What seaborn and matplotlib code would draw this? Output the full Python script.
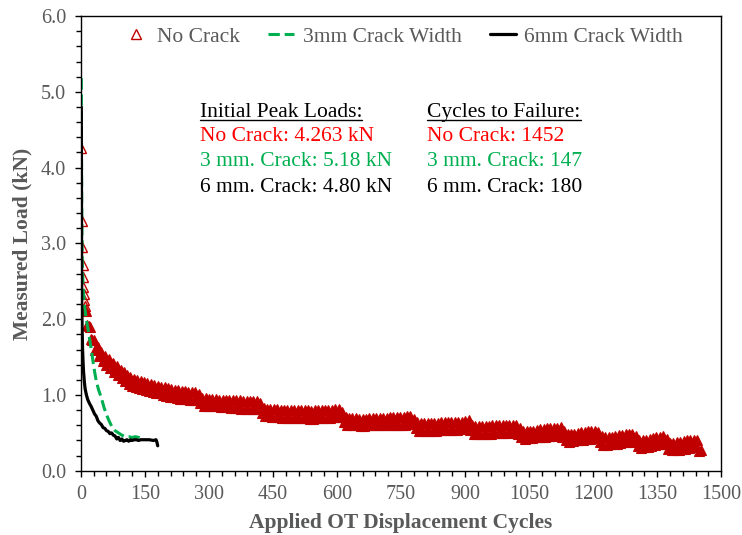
import numpy as np
import matplotlib
matplotlib.use("Agg")
import matplotlib.pyplot as plt
from matplotlib.ticker import MultipleLocator, FormatStrFormatter
from matplotlib.lines import Line2D
import seaborn as sns

# --- dados ---
# No Crack (triangulos vermelhos): ciclo e carga de pico
red_cycles = [1, 2, 3, 4, 5, 6, 7, 8, 9, 10,
              12, 15, 18, 21, 24, 27, 30, 33, 36, 39,
              42, 45, 48, 51, 54, 57, 60, 63, 66, 69,
              72, 75, 78, 81, 84, 87, 90, 93, 96, 99,
              100, 104, 108, 112, 116, 120, 124, 128, 132, 136,
              140, 144, 148, 152, 156, 160, 164, 168, 172, 176,
              180, 184, 188, 192, 196, 200, 204, 208, 212, 216,
              220, 224, 228, 232, 236, 240, 244, 248, 252, 256,
              260, 264, 268, 272, 276, 280, 284, 288, 292, 296,
              300, 304, 308, 312, 316, 320, 324, 328, 332, 336,
              340, 344, 348, 352, 356, 360, 364, 368, 372, 376,
              380, 384, 388, 392, 396, 400, 404, 408, 412, 416,
              420, 424, 428, 432, 436, 440, 444, 448, 452, 456,
              460, 464, 468, 472, 476, 480, 484, 488, 492, 496,
              500, 504, 508, 512, 516, 520, 524, 528, 532, 536,
              540, 544, 548, 552, 556, 560, 564, 568, 572, 576,
              580, 584, 588, 592, 596, 600, 604, 608, 612, 616,
              620, 624, 628, 632, 636, 640, 644, 648, 652, 656,
              660, 664, 668, 672, 676, 680, 684, 688, 692, 696,
              700, 704, 708, 712, 716, 720, 724, 728, 732, 736,
              740, 744, 748, 752, 756, 760, 764, 768, 772, 776,
              780, 784, 788, 792, 796, 800, 804, 808, 812, 816,
              820, 824, 828, 832, 836, 840, 844, 848, 852, 856,
              860, 864, 868, 872, 876, 880, 884, 888, 892, 896,
              900, 904, 908, 912, 916, 920, 924, 928, 932, 936,
              940, 944, 948, 952, 956, 960, 964, 968, 972, 976,
              980, 984, 988, 992, 996, 1000, 1004, 1008, 1012, 1016,
              1020, 1024, 1028, 1032, 1036, 1040, 1044, 1048, 1052, 1056,
              1060, 1064, 1068, 1072, 1076, 1080, 1084, 1088, 1092, 1096,
              1100, 1104, 1108, 1112, 1116, 1120, 1124, 1128, 1132, 1136,
              1140, 1144, 1148, 1152, 1156, 1160, 1164, 1168, 1172, 1176,
              1180, 1184, 1188, 1192, 1196, 1200, 1204, 1208, 1212, 1216,
              1220, 1224, 1228, 1232, 1236, 1240, 1244, 1248, 1252, 1256,
              1260, 1264, 1268, 1272, 1276, 1280, 1284, 1288, 1292, 1296,
              1300, 1304, 1308, 1312, 1316, 1320, 1324, 1328, 1332, 1336,
              1340, 1344, 1348, 1352, 1356, 1360, 1364, 1368, 1372, 1376,
              1380, 1384, 1388, 1392, 1396, 1400, 1404, 1408, 1412, 1416,
              1420, 1424, 1428, 1432, 1436, 1440, 1444, 1448, 1452]
red_load = [4.263, 3.29, 2.95, 2.72, 2.56, 2.43, 2.33, 2.25, 2.18, 2.12,
            2.11, 1.93, 1.91, 1.90, 1.74, 1.73, 1.73, 1.60, 1.62, 1.64,
            1.51, 1.54, 1.57, 1.45, 1.48, 1.51, 1.40, 1.43, 1.47, 1.35,
            1.39, 1.42, 1.31, 1.34, 1.38, 1.26, 1.30, 1.33, 1.22, 1.25,
            1.30, 1.18, 1.27, 1.15, 1.24, 1.12, 1.21, 1.11, 1.20, 1.09,
            1.19, 1.08, 1.17, 1.07, 1.16, 1.05, 1.15, 1.04, 1.13, 1.03,
            1.12, 1.02, 1.11, 1.00, 1.10, 0.99, 1.09, 0.98, 1.08, 0.97,
            1.07, 0.96, 1.06, 0.95, 1.05, 0.95, 1.05, 0.95, 1.04, 0.94,
            1.04, 0.94, 1.04, 0.93, 1.01, 0.89, 0.96, 0.86, 0.96, 0.86,
            0.95, 0.85, 0.95, 0.85, 0.95, 0.85, 0.94, 0.84, 0.94, 0.84,
            0.94, 0.84, 0.93, 0.83, 0.93, 0.83, 0.93, 0.83, 0.93, 0.82,
            0.92, 0.82, 0.92, 0.82, 0.92, 0.82, 0.92, 0.82, 0.92, 0.82,
            0.89, 0.76, 0.83, 0.72, 0.82, 0.72, 0.81, 0.71, 0.81, 0.71,
            0.81, 0.71, 0.80, 0.70, 0.80, 0.70, 0.80, 0.70, 0.80, 0.70,
            0.80, 0.70, 0.80, 0.70, 0.80, 0.70, 0.80, 0.70, 0.80, 0.69,
            0.79, 0.69, 0.80, 0.70, 0.80, 0.70, 0.80, 0.70, 0.80, 0.70,
            0.80, 0.70, 0.80, 0.71, 0.81, 0.71, 0.81, 0.71, 0.77, 0.64,
            0.71, 0.60, 0.70, 0.60, 0.70, 0.60, 0.70, 0.60, 0.69, 0.59,
            0.69, 0.59, 0.69, 0.60, 0.70, 0.60, 0.70, 0.60, 0.70, 0.60,
            0.70, 0.60, 0.70, 0.60, 0.70, 0.60, 0.71, 0.61, 0.71, 0.61,
            0.71, 0.61, 0.71, 0.61, 0.71, 0.61, 0.72, 0.62, 0.72, 0.62,
            0.69, 0.56, 0.64, 0.53, 0.63, 0.53, 0.63, 0.53, 0.63, 0.53,
            0.63, 0.53, 0.63, 0.53, 0.63, 0.54, 0.64, 0.54, 0.64, 0.54,
            0.64, 0.54, 0.64, 0.54, 0.64, 0.54, 0.65, 0.55, 0.65, 0.56,
            0.66, 0.56, 0.67, 0.54, 0.61, 0.49, 0.59, 0.49, 0.59, 0.49,
            0.59, 0.49, 0.59, 0.49, 0.59, 0.49, 0.60, 0.50, 0.60, 0.50,
            0.60, 0.50, 0.60, 0.50, 0.60, 0.50, 0.61, 0.51, 0.61, 0.51,
            0.61, 0.49, 0.56, 0.44, 0.52, 0.42, 0.52, 0.43, 0.53, 0.43,
            0.53, 0.44, 0.54, 0.44, 0.55, 0.45, 0.55, 0.45, 0.56, 0.46,
            0.56, 0.46, 0.57, 0.47, 0.57, 0.47, 0.58, 0.45, 0.52, 0.40,
            0.48, 0.38, 0.49, 0.39, 0.49, 0.40, 0.50, 0.40, 0.51, 0.41,
            0.51, 0.42, 0.52, 0.42, 0.53, 0.43, 0.53, 0.43, 0.51, 0.38,
            0.46, 0.34, 0.44, 0.34, 0.45, 0.35, 0.45, 0.36, 0.46, 0.36,
            0.47, 0.37, 0.47, 0.38, 0.48, 0.38, 0.49, 0.39, 0.49, 0.38,
            0.46, 0.33, 0.41, 0.30, 0.40, 0.31, 0.41, 0.32, 0.42, 0.33,
            0.43, 0.34, 0.44, 0.35, 0.45, 0.36, 0.46, 0.35, 0.42, 0.29,
            0.37, 0.27, 0.37, 0.28, 0.38, 0.28, 0.38, 0.29, 0.39, 0.29,
            0.40, 0.30, 0.40, 0.31, 0.41, 0.31, 0.40, 0.26, 0.28]

# 3 mm (tracejado verde)
green_cycles = [1, 2, 3, 5, 8, 12, 17, 21, 25, 29, 33, 37, 42, 48, 54,
                60, 66, 72, 80, 88, 96, 104, 112, 120, 128, 136, 142, 147]
green_load = [5.18, 3.40, 2.80, 2.45, 2.20, 2.02, 1.86, 1.72, 1.58, 1.42, 1.28, 1.16, 1.06, 0.96, 0.84,
              0.74, 0.66, 0.59, 0.53, 0.50, 0.47, 0.45, 0.45, 0.44, 0.45, 0.44, 0.43, 0.43]

# 6 mm (linha preta)
black_cycles = [1, 2, 3, 4, 5, 6, 8, 10, 13, 16, 20, 24, 28, 32, 36, 40, 44, 48, 52, 56,
                60, 64, 68, 72, 76, 80, 84, 88, 92, 96, 100, 104, 108, 112, 116, 120,
                125, 130, 135, 140, 150, 160, 170, 176, 178, 180]
black_load = [4.80, 2.20, 1.85, 1.60, 1.45, 1.33, 1.18, 1.08, 1.00, 0.94, 0.89, 0.85, 0.80, 0.75, 0.72, 0.66, 0.63, 0.61, 0.57, 0.56,
              0.53, 0.52, 0.49, 0.50, 0.47, 0.46, 0.42, 0.44, 0.40, 0.42, 0.39, 0.40, 0.41, 0.39, 0.41, 0.40,
              0.41, 0.41, 0.40, 0.41, 0.41, 0.41, 0.40, 0.41, 0.38, 0.33]

peak_lines = ["No Crack: 4.263 kN", "3 mm. Crack: 5.18 kN", "6 mm. Crack: 4.80 kN"]
fail_lines = ["No Crack: 1452", "3 mm. Crack: 147", "6 mm. Crack: 180"]

cinza = '#595959'
vermelho = '#C00000'
verde = '#00B050'
cores_txt = ['#FF0000', verde, 'black']

sns.set_theme(style="ticks")
plt.rcParams['font.family'] = ['Liberation Serif', 'DejaVu Serif']

fig, ax = plt.subplots(figsize=(7.42, 5.35), dpi=100)
fig.subplots_adjust(left=0.109, right=0.972, bottom=0.12, top=0.970)

# primeiros ciclos: triangulos vazados (pontos isolados)
n_iso = 10
sns.lineplot(x=red_cycles[:n_iso], y=red_load[:n_iso], ax=ax, estimator=None, sort=False,
             linestyle='', marker='^', markersize=7.5, markerfacecolor='none',
             markeredgecolor=vermelho, markeredgewidth=1.0, color=vermelho, label='No Crack')
# resto: os triangulos se sobrepoem e formam uma faixa cheia
sns.lineplot(x=red_cycles[n_iso:], y=red_load[n_iso:], ax=ax, estimator=None, sort=False,
             linestyle='', marker='^', markersize=7.5, markerfacecolor=vermelho,
             markeredgecolor=vermelho, markeredgewidth=0.8, color=vermelho)
sns.lineplot(x=green_cycles, y=green_load, ax=ax, estimator=None, sort=False,
             color=verde, linestyle='--', linewidth=2.2, dashes=(2.2, 2.2), label='3mm Crack Width')
sns.lineplot(x=black_cycles, y=black_load, ax=ax, estimator=None, sort=False,
             color='black', linewidth=2.3, label='6mm Crack Width')

ax.set_xlim(0, 1500)
ax.set_ylim(0, 6)
ax.xaxis.set_major_locator(MultipleLocator(150))
ax.xaxis.set_minor_locator(MultipleLocator(30))
ax.yaxis.set_major_locator(MultipleLocator(1.0))
ax.yaxis.set_minor_locator(MultipleLocator(0.2))
ax.yaxis.set_major_formatter(FormatStrFormatter('%.1f'))

for s in ax.spines.values():
    s.set_color('black')
    s.set_linewidth(1.0)
ax.tick_params(axis='both', which='major', direction='out', length=4.5, width=1.0,
               color='black', labelcolor=cinza, labelsize=14.5, pad=6)
ax.tick_params(axis='both', which='minor', direction='out', length=3.5, width=1.0, color='black')

ax.set_xlabel('Applied OT Displacement Cycles', fontsize=15.5, fontweight='bold', color=cinza, labelpad=6)
ax.set_ylabel('Measured Load (kN)', fontsize=15.5, fontweight='bold', color=cinza, labelpad=6)

leg = ax.legend(loc='center', bbox_to_anchor=(0.503, 0.954), ncol=3, frameon=False,
                fontsize=15.5, handlelength=1.2, handletextpad=0.4, columnspacing=1.3)
for t in leg.get_texts():
    t.set_color(cinza)

# textos das cargas de pico e ciclos
t1 = ax.text(0.186, 0.788, 'Initial Peak Loads:', transform=ax.transAxes, fontsize=15.5, va='center', color='black')
t2 = ax.text(0.541, 0.788, 'Cycles to Failure:', transform=ax.transAxes, fontsize=15.5, va='center', color='black')
ys = [0.735, 0.680, 0.623]
for i in range(3):
    ax.text(0.186, ys[i], peak_lines[i], transform=ax.transAxes, fontsize=15.5, va='center', color=cores_txt[i])
    ax.text(0.541, ys[i], fail_lines[i], transform=ax.transAxes, fontsize=15.5, va='center', color=cores_txt[i])

# sublinhado
fig.canvas.draw()
rend = fig.canvas.get_renderer()
for t in [t1, t2]:
    bb = t.get_window_extent(renderer=rend).transformed(fig.transFigure.inverted())
    fig.add_artist(Line2D([bb.x0, bb.x1], [bb.y0 + 0.004, bb.y0 + 0.004], color='black', linewidth=1.0,
                          transform=fig.transFigure))

plt.savefig('out.png', dpi=100)
